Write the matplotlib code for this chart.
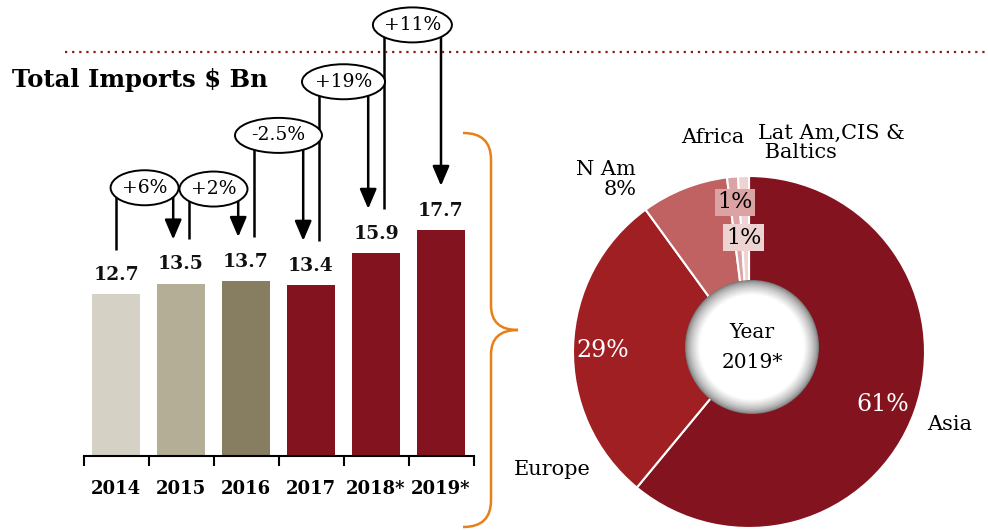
import matplotlib.pyplot as plt
import numpy as np
from matplotlib.patches import Ellipse, Circle, FancyArrowPatch, PathPatch
from matplotlib.path import Path

years = ["2014", "2015", "2016", "2017", "2018*", "2019*"]
imports = [12.7, 13.5, 13.7, 13.4, 15.9, 17.7]
growth = ["+6%", "+2%", "-2.5%", "+19%", "+11%"]

regions = ["Asia", "Europe", "N Am", "Africa", "Lat Am,CIS &\nBaltics"]
shares = [61, 29, 8, 1, 1]

bar_colors = ["#d5d1c4", "#b5ae96", "#877d61", "#83141f", "#83141f", "#83141f"]
pie_colors = ["#83141f", "#a01f23", "#c06262", "#dba3a3", "#eed3d3"]

plt.rcParams["font.family"] = ["DejaVu Serif"]

W, H = 988, 530
fig = plt.figure(figsize=(W / 100, H / 100), dpi=100)

# ---- bars ----
ax = fig.add_axes([83.5 / W, 1 - 456 / H, 390 / W, 456 / H])
x = np.arange(len(years))
ax.bar(x, imports, width=0.74, color=bar_colors)
ax.set_xlim(-0.5, 5.5)
ax.set_ylim(0, 35.7)
for s in ["top", "right", "left"]:
    ax.spines[s].set_visible(False)
ax.spines["bottom"].set_linewidth(1.5)
ax.set_yticks([])
ax.set_xticks(np.arange(-0.5, 6, 1))
ax.set_xticklabels([])
ax.tick_params(axis="x", which="major", length=7, width=1.5, direction="out")
ax.set_xticks(x, minor=True)
ax.set_xticklabels(years, minor=True, fontsize=13, fontweight="bold")
ax.tick_params(axis="x", which="minor", length=0, pad=17)
ax.patch.set_visible(False)

for i, v in enumerate(imports):
    ax.text(i, v + 1.5, f"{v}", ha="center", va="center", fontsize=13.5,
            fontweight="bold", color="#111111")

# growth bubbles with arrows
ell_y = [21.0, 20.9, 25.1, 29.3, 33.75]
ell_w = [68, 68, 87, 83, 79]
gap = 3.45
for i, g in enumerate(growth):
    xl = i if i == 0 else i + 0.12
    xr = i + 1 if i == len(growth) - 1 else i + 1 - 0.12
    xc = (xl + xr) / 2
    yc = ell_y[i]
    ax.plot([xl, xl], [imports[i] + gap, yc], color="black", lw=1.8,
            clip_on=False, zorder=3, solid_capstyle="butt")
    arr = FancyArrowPatch((xr, yc), (xr, imports[i + 1] + gap),
                          arrowstyle="-|>,head_length=0.75,head_width=0.32",
                          mutation_scale=16, color="black", lw=1.8,
                          shrinkA=0, shrinkB=0, clip_on=False, zorder=3)
    ax.add_patch(arr)
    e = Ellipse((xc, yc), ell_w[i] / 65, 35 / 12.77, facecolor="white",
                edgecolor="black", lw=1.4, clip_on=False, zorder=4)
    ax.add_patch(e)
    ax.text(xc, yc, g, ha="center", va="center", fontsize=13.5, zorder=5)

# ---- donut ----
R = 176
half = 230
cx, cy = 749, 352
axp = fig.add_axes([(cx - half) / W, 1 - (cy + half) / H, 2 * half / W, 2 * half / H])
axp.pie(shares, colors=pie_colors, startangle=90, counterclock=False, radius=1,
        wedgeprops=dict(edgecolor="white", linewidth=1.5))
lim = half / R
axp.set_xlim(-lim, lim)
axp.set_ylim(-lim, lim)
axp.set_aspect("equal")
axp.axis("off")

# hole with soft shadow
hx, hy, hr = 3 / R, 5 / R, 67 / R
n = 30
for k in range(n):
    t = k / (n - 1)
    r = hr * (1 - 0.25 * t)
    c = 0.45 + 0.55 * min(1, t * 1.15) ** 0.6
    axp.add_patch(Circle((hx, hy), r, color=(c, c, c), lw=0, zorder=5))
axp.add_patch(Circle((hx, hy), hr * 0.74, color="white", lw=0, zorder=5))
axp.text(hx, hy + 0.08, "Year", ha="center", va="center", fontsize=14.5, zorder=6)
axp.text(hx, hy - 0.09, "2019*", ha="center", va="center", fontsize=14.5, zorder=6)

axp.text(0.76, -0.30, "61%", ha="center", va="center", fontsize=17, color="white")
axp.text(-0.83, 0.01, "29%", ha="center", va="center", fontsize=17, color="white")
axp.text(-0.08, 0.85, "1%", ha="center", va="center", fontsize=16, zorder=7,
         bbox=dict(boxstyle="square,pad=0.12", fc=pie_colors[3], ec="none"))
axp.text(-0.03, 0.65, "1%", ha="center", va="center", fontsize=16, zorder=7,
         bbox=dict(boxstyle="square,pad=0.12", fc=pie_colors[4], ec="none"))

axp.text(1.14, -0.41, regions[0], ha="center", va="center", fontsize=15)
axp.text(-1.12, -0.67, regions[1], ha="center", va="center", fontsize=15)
axp.text(-0.64, 0.98, "N Am\n8%", ha="right", va="center", fontsize=15,
         multialignment="right", linespacing=1.1)
axp.text(-0.205, 1.22, regions[3], ha="center", va="center", fontsize=15)
axp.text(0.05, 1.19, "Lat Am,CIS &\n Baltics", ha="left", va="center", fontsize=15,
         linespacing=1.0)

# ---- overlay: title, dotted rule, brace ----
ov = fig.add_axes([0, 0, 1, 1])
ov.set_xlim(0, W)
ov.set_ylim(H, 0)
ov.axis("off")
ov.patch.set_visible(False)

ov.plot([65, W], [52, 52], color="#8b1a1a", lw=1.6, ls=(0, (1, 2.2)))
ov.text(12, 80, "Total Imports $ Bn", fontsize=17.5, fontweight="bold",
        ha="left", va="center")

verts = [(463, 133), (482, 133), (491, 142), (491, 160),
         (491, 305),
         (491, 322), (500, 330), (518, 330),
         (500, 330), (491, 338), (491, 355),
         (491, 500),
         (491, 518), (482, 527), (463, 527)]
codes = [Path.MOVETO, Path.CURVE4, Path.CURVE4, Path.CURVE4,
         Path.LINETO,
         Path.CURVE4, Path.CURVE4, Path.CURVE4,
         Path.CURVE4, Path.CURVE4, Path.CURVE4,
         Path.LINETO,
         Path.CURVE4, Path.CURVE4, Path.CURVE4]
ov.add_patch(PathPatch(Path(verts, codes), fill=False, edgecolor="#e8801a", lw=1.8))

fig.savefig("out.png", dpi=100)
